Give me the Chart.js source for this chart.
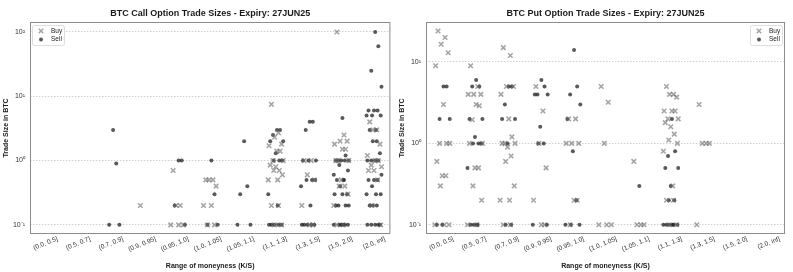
<!DOCTYPE html>
<html>
<head>
<meta charset="utf-8">
<script src="https://cdn.jsdelivr.net/npm/chart.js@4.4.0/dist/chart.umd.min.js"></script>
<style>
  html, body { margin: 0; padding: 0; background: #fff; }
  #wrap { position: relative; width: 793px; height: 272px; }
  .panel { position: absolute; top: 0; height: 272px; }
  #callPanel { left: 0; width: 396px; }
  #putPanel { left: 396px; width: 397px; }
</style>
</head>
<body>
<div id="wrap">
  <div class="panel" id="callPanel"><canvas id="callChart" width="396" height="272"></canvas></div>
  <div class="panel" id="putPanel"><canvas id="putChart" width="397" height="272"></canvas></div>
</div>
<script>
// moneyness buckets (K/S)
const categories = ['(0.0, 0.5]', '(0.5, 0.7]', '(0.7, 0.9]', '(0.9, 0.95]', '(0.95, 1.0]', '(1.0, 1.05]',
    '(1.05, 1.1]', '(1.1, 1.3]', '(1.3, 1.5]', '(1.5, 2.0]', '(2.0, inf]'];

// trade sizes in BTC, one list per bucket
const callBuySizes = [
    [], [], [], [0.2],
    [0.7, 0.2, 0.2, 0.1, 0.1, 0.1],
    [0.5, 0.5, 0.5, 0.4, 0.2, 0.2, 0.1, 0.1],
    [],
    [7.5, 2.7, 2.3, 1.8, 1.7, 1.4, 1.4, 1, 1, 0.85, 0.8, 0.7, 0.7, 0.6, 0.5, 0.5, 0.2, 0.2, 0.1, 0.1],
    [1, 1, 0.6, 0.5, 0.2, 0.1, 0.1],
    [100, 2.5, 2, 2, 1.8, 1.5, 1.5, 1, 1, 1, 0.5, 0.4, 0.4, 0.3, 0.2, 0.1, 0.1],
    [4, 3, 3, 1.8, 1.2, 1, 1, 0.85, 0.8, 0.7, 0.7, 0.5, 0.2, 0.1]
];
const callSellSizes = [
    [], [],
    [3, 0.9, 0.1, 0.1],
    [],
    [1, 1, 0.2, 0.1],
    [1, 0.3, 0.1, 0.1],
    [2, 0.4, 0.3, 0.1, 0.1],
    [3, 3, 2.5, 2, 2, 1.3, 1, 1, 1, 0.3, 0.2, 0.1, 0.1, 0.1, 0.1, 0.1],
    [4, 4, 3, 1, 1, 1, 0.5, 0.5, 0.5, 0.4, 0.2, 0.1, 0.1, 0.1, 0.1, 0.1],
    [4.6, 1.2, 1, 1, 1, 1, 1, 0.85, 0.7, 0.6, 0.5, 0.5, 0.5, 0.4, 0.3, 0.3, 0.3, 0.2, 0.2, 0.2, 0.2, 0.1, 0.1, 0.1, 0.1, 0.1, 0.1],
    [100, 60, 25, 14, 6, 6, 6, 5, 5, 5, 3, 3, 2, 2, 1.3, 1, 1, 1, 1, 0.6, 0.5, 0.5, 0.5, 0.4, 0.3, 0.3, 0.3, 0.2, 0.2, 0.2, 0.1, 0.1, 0.1, 0.1, 0.1]
];
const putBuySizes = [
    [24, 20, 16.5, 13, 9, 3, 1, 1, 1, 0.6, 0.4, 0.4, 0.3, 0.1, 0.1, 0.1],
    [9, 5, 4, 4, 4, 3, 2.9, 1.95, 1, 1, 0.5, 0.5, 0.3, 0.2, 0.1, 0.1],
    [15, 12, 5, 5, 4, 2, 1.2, 1, 1, 1, 0.9, 0.7, 0.6, 0.3, 0.2, 0.2, 0.1, 0.1],
    [5, 2.5, 1, 0.5, 0.2, 0.1, 0.1],
    [2, 2, 1, 1, 1, 0.2, 0.2, 0.1],
    [5, 3.2, 1, 0.1, 0.1, 0.1],
    [0.6, 0.1, 0.1, 0.1],
    [5, 4, 4, 3.7, 2.5, 2.5, 2.5, 2, 2, 1.8, 1.6, 1.3, 1.1, 1, 0.8, 0.3, 0.2, 0.2, 0.1, 0.1],
    [3, 1, 1, 1, 0.1],
    [], []
];
const putSellSizes = [
    [5, 5, 2, 2, 0.1, 0.1],
    [6, 5, 5, 2, 2, 1.2, 1, 1, 1, 0.5, 0.1, 0.1, 0.1, 0.1],
    [5, 5, 3, 2, 2, 1, 0.1, 0.1],
    [6, 5, 4, 4, 4, 1.6, 1, 1, 0.1, 0.1],
    [14, 5, 4, 3, 2, 0.8, 0.2, 0.1, 0.1, 0.1],
    [],
    [0.3],
    [2, 0.8, 0.7, 0.5, 0.5, 0.3, 0.2, 0.2, 0.1, 0.1, 0.1, 0.1, 0.1, 0.1],
    [], [], []
];

const yTickValues = [0.1, 1, 10, 100];
const yTickLabels = ['10\u207B\u00B9', '10\u2070', '10\u00B9', '10\u00B2'];

Chart.defaults.font.family = "'Liberation Sans', Arial, sans-serif";
Chart.defaults.color = '#333';

const BUY_COLOR = 'rgba(105, 105, 105, 0.6)';
const SELL_COLOR = 'rgba(25, 25, 25, 0.72)';

// strip-plot jitter, fixed pattern so the picture is stable
const jitterPattern = [-0.55, 0.35, -0.15, 0.75, -0.85, 0.15, 0.55, -0.35, 0.95, -0.7, 0.0, 0.45, -0.25, 0.85, -0.95, 0.25];

function toPoints(groups, shift) {
    const pts = [];
    groups.forEach((vals, ci) => {
        vals.forEach((v, j) => {
            pts.push({ x: ci + jitterPattern[(j + shift) % jitterPattern.length] * 0.24, y: v });
        });
    });
    return pts;
}

const framePlugin = {
    id: 'frame',
    afterDatasetsDraw(chart) {
        const a = chart.chartArea;
        const ctx = chart.ctx;
        ctx.save();
        ctx.strokeStyle = '#8c8c8c';
        ctx.lineWidth = 1;
        ctx.strokeRect(a.left + 0.5, a.top + 0.5, a.right - a.left - 1, a.bottom - a.top - 1);
        ctx.restore();
    }
};

const headerPlugin = {
    id: 'header',
    afterDraw(chart, args, opts) {
        const a = chart.chartArea;
        const ctx = chart.ctx;
        ctx.save();
        ctx.font = "bold 9px 'Liberation Sans', Arial, sans-serif";
        ctx.fillStyle = '#1a1a1a';
        ctx.textAlign = 'center';
        ctx.textBaseline = 'middle';
        ctx.fillText(opts.text, (a.left + a.right) / 2, 14);
        ctx.restore();
    }
};

const boxLegendPlugin = {
    id: 'boxLegend',
    afterDraw(chart, args, opts) {
        const a = chart.chartArea;
        const ctx = chart.ctx;
        const w = 32, h = 20;
        const x0 = opts.side === 'right' ? a.right - w - 3 : a.left + 2;
        const y0 = a.top + 3;
        ctx.save();
        ctx.fillStyle = 'rgba(255,255,255,0.85)';
        ctx.strokeStyle = '#d4d4d4';
        ctx.lineWidth = 0.8;
        ctx.beginPath();
        ctx.roundRect(x0 + 0.5, y0 + 0.5, w, h, 2);
        ctx.fill();
        ctx.stroke();
        // Buy marker
        ctx.strokeStyle = BUY_COLOR;
        ctx.lineWidth = 1.5;
        const mx = x0 + 9, r = 2.2;
        let my = y0 + 6;
        ctx.beginPath();
        ctx.moveTo(mx - r, my - r); ctx.lineTo(mx + r, my + r);
        ctx.moveTo(mx - r, my + r); ctx.lineTo(mx + r, my - r);
        ctx.stroke();
        // Sell marker
        my = y0 + 14.5;
        ctx.fillStyle = SELL_COLOR;
        ctx.beginPath();
        ctx.arc(mx, my, 2, 0, Math.PI * 2);
        ctx.fill();
        ctx.fillStyle = '#222';
        ctx.font = "6.5px 'Liberation Sans', Arial, sans-serif";
        ctx.textBaseline = 'middle';
        ctx.textAlign = 'left';
        ctx.fillText('Buy', x0 + 19, y0 + 6);
        ctx.fillText('Sell', x0 + 19, y0 + 14.5);
        ctx.restore();
    }
};

function makeChart(canvasId, title, buyGroups, sellGroups, yMin, yMax, legendSide, rightPad) {
    const ctx = document.getElementById(canvasId).getContext('2d');
    return new Chart(ctx, {
        type: 'scatter',
        data: {
            datasets: [
                {
                    label: 'Buy',
                    data: toPoints(buyGroups, 0),
                    pointStyle: 'crossRot',
                    radius: 3.2,
                    borderWidth: 1.6,
                    borderColor: BUY_COLOR,
                    backgroundColor: BUY_COLOR
                },
                {
                    label: 'Sell',
                    data: toPoints(sellGroups, 5),
                    pointStyle: 'circle',
                    radius: 2,
                    borderWidth: 0,
                    backgroundColor: SELL_COLOR
                }
            ]
        },
        options: {
            responsive: false,
            animation: false,
            devicePixelRatio: 1,
            layout: { padding: { top: 22, right: rightPad, bottom: 0, left: 0 } },
            plugins: {
                legend: { display: false },
                tooltip: { enabled: false },
                header: { text: title },
                boxLegend: { side: legendSide }
            },
            scales: {
                x: {
                    type: 'linear',
                    min: -0.5,
                    max: 10.5,
                    afterBuildTicks: s => { s.ticks = categories.map((c, i) => ({ value: i })); },
                    afterFit: s => { s.height = 38; },
                    grid: { display: false, drawTicks: false },
                    border: { display: false },
                    ticks: {
                        autoSkip: false,
                        minRotation: 22,
                        maxRotation: 22,
                        padding: 1,
                        labelOffset: 11,
                        font: { size: 6.5 },
                        color: '#333',
                        callback: (v, i) => categories[i]
                    },
                    title: {
                        display: true,
                        text: 'Range of moneyness (K/S)',
                        font: { size: 7, weight: 'bold' },
                        color: '#1a1a1a',
                        padding: { top: 0, bottom: 2 }
                    }
                },
                y: {
                    type: 'logarithmic',
                    min: yMin,
                    max: yMax,
                    afterBuildTicks: s => {
                        s.ticks = yTickValues.filter(v => v >= s.min && v <= s.max).map(v => ({ value: v, major: true }));
                    },
                    afterFit: s => { s.width = 30; },
                    grid: { color: '#c4c4c4', lineWidth: 0.8, drawTicks: false },
                    border: { display: false, dash: [1.5, 1.5] },
                    ticks: {
                        padding: 5,
                        font: { size: 7 },
                        color: '#333',
                        callback: v => yTickLabels[yTickValues.indexOf(v)] ?? ''
                    },
                    title: {
                        display: true,
                        text: 'Trade Size in BTC',
                        font: { size: 7, weight: 'bold' },
                        color: '#1a1a1a',
                        padding: { top: 2, bottom: 0 }
                    }
                }
            }
        },
        plugins: [framePlugin, headerPlugin, boxLegendPlugin]
    });
}

makeChart('callChart', 'BTC Call Option Trade Sizes - Expiry: 27JUN25', callBuySizes, callSellSizes, 0.072, 143, 'left', 4);
makeChart('putChart', 'BTC Put Option Trade Sizes - Expiry: 27JUN25', putBuySizes, putSellSizes, 0.077, 31, 'right', 8);
</script>
</body>
</html>
